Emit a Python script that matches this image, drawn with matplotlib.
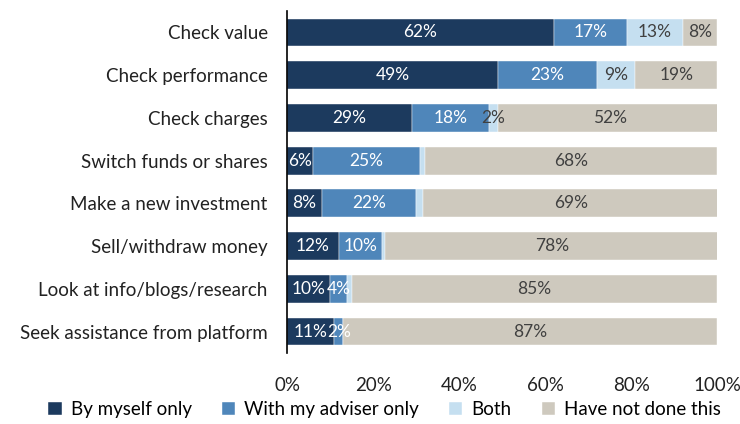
import matplotlib
matplotlib.use("Agg")
import matplotlib.pyplot as plt
from matplotlib.ticker import FuncFormatter

plt.rcParams['font.family'] = ['Lato', 'DejaVu Sans']

categories = ["Check value", "Check performance", "Check charges",
              "Switch funds or shares", "Make a new investment",
              "Sell/withdraw money", "Look at info/blogs/research",
              "Seek assistance from platform"]
by_myself = [62, 49, 29, 6, 8, 12, 10, 11]
with_adviser = [17, 23, 18, 25, 22, 10, 4, 2]
both = [13, 9, 2, 1, 1.5, 0.7, 1, 0]
not_done = [8, 19, 52, 68, 69, 78, 85, 87]
series_names = ["By myself only", "With my adviser only", "Both", "Have not done this"]

colors = ["#1c3a5e", "#4f86ba", "#c5dff0", "#cec9be"]
text_colors = ["white", "white", "#404040", "#404040"]

fig = plt.figure(figsize=(7.4, 4.24), dpi=100)
ax = fig.add_axes([0.388, 0.1675, 0.581, 0.8065])

y = list(range(len(categories)))
left = [0] * len(categories)
for vals, name, c, tc in zip([by_myself, with_adviser, both, not_done],
                             series_names, colors, text_colors):
    bars = ax.barh(y, vals, left=left, height=0.65, color=c, label=name,
                   edgecolor="white", linewidth=0.3)
    for b, v in zip(bars, vals):
        if v >= 2:
            ax.text(b.get_x() + b.get_width() / 2, b.get_y() + b.get_height() / 2,
                    f"{v:.0f}%", ha="center", va="center", color=tc, fontsize=12.5)
    left = [l + v for l, v in zip(left, vals)]

ax.set_ylim(len(categories) - 0.5, -0.5)
ax.set_xlim(0, 100)
ax.set_yticks(y)
ax.set_yticklabels(categories, fontsize=13.5, color="#222222")
ax.set_xticks(range(0, 101, 20))
ax.xaxis.set_major_formatter(FuncFormatter(lambda v, p: f"{v:.0f}%"))
ax.tick_params(axis="x", length=0, labelsize=13.5, pad=17, colors="#222222")
ax.tick_params(axis="y", length=0, pad=14)
for s in ["top", "right", "bottom"]:
    ax.spines[s].set_visible(False)
ax.spines["left"].set_color("black")
ax.spines["left"].set_linewidth(1.2)

fig.legend(loc="lower center", bbox_to_anchor=(0.52, -0.025), ncol=4, frameon=False,
           fontsize=13.5, handlelength=0.7, handleheight=0.7, columnspacing=1.6,
           handletextpad=0.5)

fig.savefig("out.png", dpi=100)
